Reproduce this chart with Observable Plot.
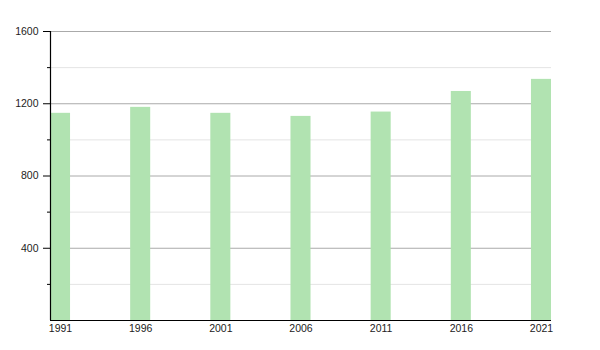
<!DOCTYPE html>
<html>
<head>
<meta charset="utf-8">
<script src="https://cdn.jsdelivr.net/npm/d3@7"></script>
<script src="https://cdn.jsdelivr.net/npm/@observablehq/plot@0.6"></script>
<style>
  html, body { margin: 0; padding: 0; background: #fff; }
  #chart svg { display: block; }
</style>
</head>
<body>
<div id="chart"></div>
<script>
const years = [1991, 1996, 2001, 2006, 2011, 2016, 2021];
const population = [1147, 1180, 1147, 1130, 1154, 1268, 1335];
const majorTicks = [400, 800, 1200, 1600];
const minorTicks = [200, 600, 1000, 1400];

const data = years.map((y, i) => ({year: y, value: population[i]}));
const half = 0.625;

const chart = Plot.plot({
  width: 600,
  height: 350,
  marginLeft: 50,
  marginRight: 49,
  marginTop: 31,
  marginBottom: 30,
  style: {fontFamily: "'Liberation Sans', Arial, sans-serif", fontSize: "10.5px", color: "#222", background: "#fff"},
  x: {domain: [years[0] - half, years[years.length - 1] + half]},
  y: {domain: [0, 1600]},
  marks: [
    Plot.ruleY(minorTicks, {stroke: "#e4e4e4", strokeWidth: 1}),
    Plot.ruleY(majorTicks, {stroke: "#aaaaaa", strokeWidth: 1}),
    Plot.rectY(data, {x1: d => d.year - half, x2: d => d.year + half, y: "value", fill: "#b1e3b1"}),
    Plot.axisY(majorTicks, {tickSize: 7, tickPadding: 5, tickFormat: d => String(d), label: null, stroke: "#000", fill: "#222"}),
    Plot.axisY(minorTicks, {tickSize: 3, tickFormat: () => "", label: null, stroke: "#000"}),
    Plot.axisX(years, {tickSize: 0, tickPadding: 4, tickFormat: d => String(d), label: null, fill: "#222"}),
    Plot.ruleX([years[0] - half], {stroke: "#000", strokeWidth: 1.2}),
    Plot.ruleY([0], {stroke: "#000", strokeWidth: 1.2})
  ]
});
document.getElementById("chart").appendChild(chart);
</script>
</body>
</html>
